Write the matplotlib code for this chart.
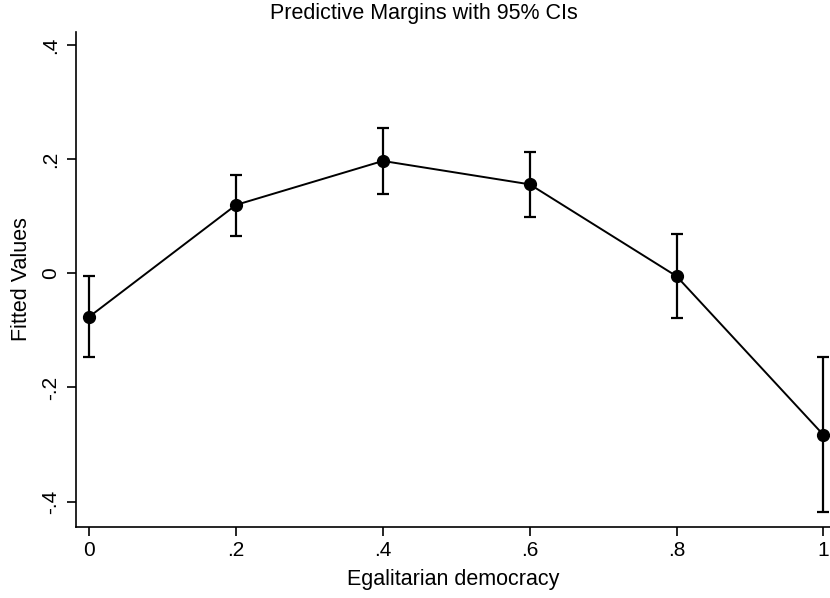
import matplotlib
matplotlib.use("Agg")
import matplotlib.pyplot as plt

plt.rcParams['font.family'] = ['Liberation Sans', 'DejaVu Sans']

# Predictive margins and 95% confidence bounds
x_vals = [0.0, 0.2, 0.4, 0.6, 0.8, 1.0]
margins = [-0.076, 0.120, 0.197, 0.156, -0.005, -0.283]
ci_low = [-0.147, 0.066, 0.139, 0.098, -0.078, -0.419]
ci_high = [-0.004, 0.172, 0.254, 0.212, 0.069, -0.146]

x_ticks = [0, 0.2, 0.4, 0.6, 0.8, 1.0]
x_ticklabels = ["0", ".2", ".4", ".6", ".8", "1"]
y_ticks = [-0.4, -0.2, 0.0, 0.2, 0.4]
y_ticklabels = ["-.4", "-.2", "0", ".2", ".4"]

fig = plt.figure(figsize=(8.3, 5.98), dpi=100)
ax = fig.add_axes([0.0912, 0.1192, 0.9088, 0.8273])

yerr = [[m - lo for m, lo in zip(margins, ci_low)],
        [hi - m for m, hi in zip(margins, ci_high)]]
ax.errorbar(x_vals, margins, yerr=yerr, fmt='none', ecolor='black',
            elinewidth=1.6, capsize=4.5, capthick=1.6, zorder=2)
ax.plot(x_vals, margins, color='black', lw=1.4, marker='o',
        markersize=8.5, markerfacecolor='black', zorder=3)

ax.set_xlim(-0.0185, 1.009)
ax.set_ylim(-0.444, 0.423)
ax.set_xticks(x_ticks)
ax.set_xticklabels(x_ticklabels)
ax.set_yticks(y_ticks)
ax.set_yticklabels(y_ticklabels, rotation=90, va='center')

for side in ('top', 'right'):
    ax.spines[side].set_visible(False)
for side in ('left', 'bottom'):
    ax.spines[side].set_linewidth(1.2)

ax.tick_params(axis='both', direction='out', length=6.5, width=1.2,
               labelsize=15, color='black')
ax.tick_params(axis='y', pad=5)
ax.tick_params(axis='x', pad=4)

ax.set_xlabel("Egalitarian democracy", fontsize=15.5, labelpad=6)
ax.set_ylabel("Fitted Values", fontsize=15.5, labelpad=6)

fig.text(424 / 830, 1 - 14 / 598, "Predictive Margins with 95% CIs",
         ha='center', va='center', fontsize=15.5)

fig.savefig("out.png", dpi=100)
